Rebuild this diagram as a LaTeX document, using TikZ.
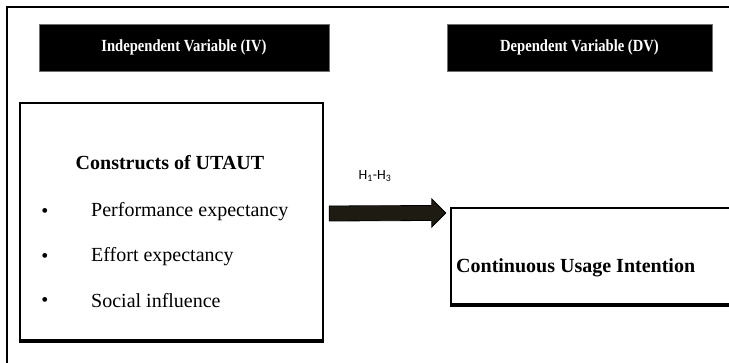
\documentclass[tikz,border=0pt]{standalone}
\usepackage{fontspec}
\setmainfont{Liberation Serif}
\newfontfamily\calib{Carlito}
\usetikzlibrary{calc}
\definecolor{arrowfill}{RGB}{30,28,18}
\definecolor{hdrborder}{RGB}{110,110,110}
\tikzset{
  header/.style={draw=hdrborder, line width=0.8pt, fill=black, text=white,
    font=\fontsize{17}{19}\selectfont\bfseries, inner sep=0pt},
  framebox/.style={draw=none, inner sep=0pt},
  boxline/.style={line width=2pt},
  boxbottom/.style={line width=3.5pt},
  bigtext/.style={font=\fontsize{20}{24}\selectfont\bfseries, inner sep=0pt},
  itemtext/.style={font=\fontsize{20}{24}\selectfont, inner sep=0pt, anchor=west},
  bullet/.style={font=\fontsize{20}{24}\selectfont, inner sep=0pt},
  hlabel/.style={font=\calib\fontsize{14}{16}\selectfont, inner sep=0pt},
  fatarrow/.style={fill=arrowfill, draw=black, line width=0.8pt}
}
\begin{document}
\begin{tikzpicture}[x=1pt,y=-1pt]
\useasboundingbox (0,0) rectangle (729,363);
% outer frame (open to the right and bottom)
\draw[boxline] (7,363) -- (7,7) -- (729,7);
% headers
\node[header, minimum width=290pt, minimum height=47pt] (iv) at (184,47.5) {\scalebox{0.86}[1]{Independent Variable (IV)}};
\node[header, minimum width=265pt, minimum height=47pt] (dv) at (579.5,47.5) {\scalebox{0.86}[1]{Dependent Variable (DV)}};
% left box
\node[framebox, minimum width=303pt, minimum height=238pt] (lbox) at (171.5,222) {};
\draw[boxline] (lbox.south west) -- (lbox.north west) -- (lbox.north east) -- (lbox.south east);
\draw[boxbottom] ([xshift=-1pt]lbox.south west) -- ([xshift=1pt]lbox.south east);
\node[bigtext] (title) at (170,163) {Constructs of UTAUT};
\node[bullet] (b1) at (45,213) {•};
\node[itemtext] (i1) at (91,212) {Performance expectancy};
\node[bullet] (b2) at (45,258) {•};
\node[itemtext] (i2) at (91,257) {Effort expectancy};
\node[bullet] (b3) at (45,302) {•};
\node[itemtext] (i3) at (91,301) {Social influence};
% right box
\node[framebox, minimum width=280pt, minimum height=97pt] (rbox) at (591,256.5) {};
\draw[boxline] (rbox.north east) -- (rbox.north west) -- (rbox.south west);
\draw[boxbottom] ([xshift=-1pt]rbox.south west) -- (rbox.south east);
\node[bigtext, anchor=west] (cui) at (456,268) {Continuous Usage Intention};
% arrow
\coordinate (as) at ($(lbox.east)+(6,-8.5)$);
\coordinate (ae) at ($(rbox.west)+(-5,-43.5)$);
\draw[fatarrow] ($(as)+(0,-7.5)$) -- ($(ae)+(-14,-7.5)$) -- ($(ae)+(-14,-14)$) -- (ae)
  -- ($(ae)+(-14,14)$) -- ($(ae)+(-14,7.5)$) -- ($(as)+(0,7.5)$) -- cycle;
\node[hlabel] (h) at (375,176) {H\textsubscript{1}-H\textsubscript{3}};
\end{tikzpicture}
\end{document}
